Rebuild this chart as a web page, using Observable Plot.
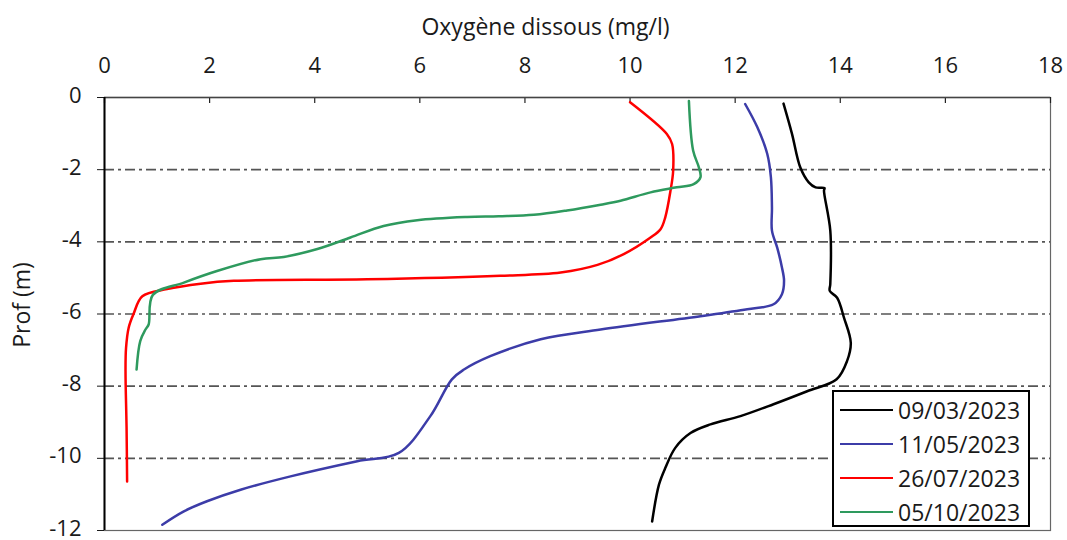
<!DOCTYPE html>
<html><head><meta charset="utf-8">
<script src="https://cdn.jsdelivr.net/npm/d3@7"></script>
<script src="https://cdn.jsdelivr.net/npm/@observablehq/plot@0.6"></script>
<style>
body{margin:0;background:#fff;font-family:"Open Sans",sans-serif;}
#wrap{position:relative;width:1067px;height:540px;}
#legend{position:absolute;left:832px;top:390px;width:198px;height:137px;box-sizing:border-box;border:2px solid #000;background:#fff;padding-top:1px;}
.row{display:flex;align-items:center;height:34px;font-size:23px;color:#1a1a1a;}
.sw{width:53px;height:2.5px;margin-left:6px;margin-right:5px;}
</style>
</head><body>
<div id="wrap"><div id="chart"></div><div id="legend"></div></div>
<script>
const series = ["09/03/2023","11/05/2023","26/07/2023","05/10/2023"];
const colors = ["#000000","#3c3ca8","#ff0000","#2e9a5e"];
const xTicks = [0,2,4,6,8,10,12,14,16,18];
const yTicks = [0,-2,-4,-6,-8,-10,-12];
const gridY = [-2,-4,-6,-8,-10];
const xTitle = "Oxygène dissous (mg/l)";
const yTitle = "Prof (m)";

const oxy0903 = [12.92,13.08,13.24,13.40,13.53,13.70,13.69,13.81,13.81,13.80,13.94,14.07,14.20,14.13,13.93,13.37,12.73,12.10,11.53,11.15,10.86,10.67,10.55,10.42];
const prof0903 = [-0.17,-1.0,-1.94,-2.35,-2.49,-2.51,-2.58,-3.69,-5.17,-5.36,-5.55,-6.10,-6.8,-7.3,-7.81,-8.14,-8.5,-8.83,-9.06,-9.3,-9.71,-10.27,-10.73,-11.75];

const oxy1105 = [12.19,12.42,12.61,12.68,12.70,12.70,12.80,12.89,12.93,12.89,12.73,12.23,11.34,9.44,8.30,7.34,6.84,6.61,6.20,5.60,4.81,3.54,2.59,1.95,1.51,1.10];
const prof1105 = [-0.18,-0.82,-1.56,-2.21,-3.05,-3.69,-4.16,-4.71,-5.08,-5.45,-5.73,-5.87,-6.06,-6.43,-6.7,-7.17,-7.54,-7.81,-8.83,-9.85,-10.08,-10.5,-10.87,-11.19,-11.47,-11.84];

const oxy2607 = [10.0,10.70,10.80,10.82,10.77,10.67,10.58,10.39,9.88,9.38,8.68,7.53,5.0,2.46,1.83,1.19,0.72,0.55,0.46,0.41,0.40,0.42,0.43];
const prof2607 = [-0.13,-1.01,-1.29,-2.03,-2.58,-3.32,-3.65,-3.88,-4.34,-4.64,-4.85,-4.94,-5.04,-5.08,-5.16,-5.31,-5.51,-6.01,-6.38,-6.94,-7.58,-9.16,-10.64];

const oxy0510 = [11.12,11.20,11.31,11.34,11.21,10.89,10.39,9.82,9.44,8.80,8.17,7.50,6.90,5.95,5.31,4.68,4.05,3.41,2.97,2.14,1.51,0.92,0.84,0.78,0.68,0.61];
const prof0510 = [-0.10,-1.47,-1.94,-2.21,-2.40,-2.49,-2.63,-2.86,-2.97,-3.13,-3.25,-3.29,-3.31,-3.40,-3.56,-3.88,-4.20,-4.42,-4.48,-4.81,-5.13,-5.47,-6.29,-6.43,-6.75,-7.54];

const oxyAll = [oxy0903, oxy1105, oxy2607, oxy0510];
const profAll = [prof0903, prof1105, prof2607, prof0510];
const rows = series.flatMap((s, k) => oxyAll[k].map((v, i) => ({date: s, oxy: v, prof: profAll[k][i]})));

const chart = Plot.plot({
  width: 1067, height: 540,
  marginLeft: 104, marginRight: 17, marginTop: 97, marginBottom: 10,
  style: {fontFamily: "'Open Sans', sans-serif", fontSize: "22px", color: "#1a1a1a", background: "#fff"},
  x: {domain: [0, 18]},
  y: {domain: [-12, 0]},
  color: {domain: series, range: colors},
  marks: [
    Plot.ruleY(gridY, {stroke: "#555", strokeWidth: 1.6, strokeDasharray: "10,4,3,4"}),
    Plot.frame({stroke: "#666", strokeWidth: 1.2}),
    Plot.axisX(xTicks, {anchor: "top", tickSize: 0, tickPadding: 25, label: null}),
    Plot.text([xTitle], {frameAnchor: "top", lineAnchor: "bottom", dy: -63, dx: -32, fontSize: 23, fill: "#1a1a1a"}),
    Plot.ruleX(xTicks, {x: d => d, y1: 0, y2: 0, insetBottom: -6, stroke: "#222", strokeWidth: 1.2}),
    Plot.axisY(yTicks, {anchor: "left", tickSize: 7, tickFormat: () => "", label: null}),
    Plot.axisY(yTicks, {anchor: "left", tickSize: 0, tickPadding: 23, tickFormat: d => String(d), label: null, dy: -2}),
    Plot.text([yTitle], {frameAnchor: "left", rotate: -90, textAnchor: "middle", lineAnchor: "top", dx: -91, dy: -9, fontSize: 23, fill: "#1a1a1a"}),
    Plot.ruleY([0], {stroke: "#444", strokeWidth: 1.5}),
    Plot.ruleX([0], {stroke: "#000", strokeWidth: 2}),
    Plot.line(rows, {x: "oxy", y: "prof", z: "date", stroke: "date", strokeWidth: 2.5, curve: "catmull-rom"})
  ]
});
document.getElementById("chart").appendChild(chart);

const leg = document.getElementById("legend");
series.forEach((s, k) => {
  const r = document.createElement("div"); r.className = "row";
  const sw = document.createElement("div"); sw.className = "sw"; sw.style.background = colors[k];
  const t = document.createElement("span"); t.textContent = s;
  r.appendChild(sw); r.appendChild(t); leg.appendChild(r);
});
</script>
</body></html>
